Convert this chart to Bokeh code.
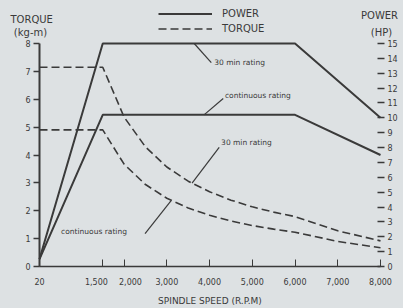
from bokeh.plotting import figure
from bokeh.models import (Range1d, LinearAxis, FixedTicker, NumeralTickFormatter,
                          Label, Legend, LegendItem)
from bokeh.embed import file_html
from bokeh.resources import INLINE

# ---- data ----
rpm_power = [20, 1500, 6000, 8000]
power_30min = [0.5, 15.0, 15.0, 10.0]     # HP
power_cont = [0.5, 10.2, 10.2, 7.5]       # HP

rpm_torque = [20, 1500, 2000, 2500, 3000, 3500, 4000, 4500, 5000, 5500, 6000, 7000, 8000]
torque_30min = [7.15, 7.15, 5.36, 4.29, 3.57, 3.06, 2.68, 2.38, 2.14, 1.95, 1.79, 1.28, 0.92]
torque_cont = [4.9, 4.9, 3.67, 2.94, 2.45, 2.1, 1.84, 1.63, 1.47, 1.34, 1.23, 0.9, 0.67]

x_ticks = [20, 1500, 2000, 3000, 4000, 5000, 6000, 7000, 8000]
torque_ticks = [0, 1, 2, 3, 4, 5, 6, 7, 8]
power_ticks = list(range(0, 16))

# annotations: text, axis, text position, leader start, leader end
note_text = ["30 min rating", "continuous rating", "30 min rating", "continuous rating"]
note_axis = ["hp", "hp", "default", "default"]
note_pos = [(4110, 13.72), (4360, 11.5), (4270, 4.45), (525, 1.26)]
note_from = [(3640, 15.0), (3870, 10.2), (3590, 2.99), (2490, 1.18)]
note_to = [(4040, 13.72), (4320, 11.3), (4225, 4.27), (3100, 2.36)]

FONT = "DejaVu Sans"
INK = "#3a3a3a"
BG = "#dde1e3"
NB = "\u00a0" * 5

# whole canvas is the frame; axes sit at fixed data locations
X0, X1 = -892.7, 8538.2
Y0, Y1 = -1.5067, 9.5426
p = figure(frame_width=403, frame_height=308,
           x_range=Range1d(X0, X1), y_range=Range1d(Y0, Y1),
           x_axis_type=None, y_axis_type=None,
           output_backend="svg", toolbar_location=None,
           min_border_left=0, min_border_top=0, min_border_right=0, min_border_bottom=0)
p.extra_y_ranges = {"hp": Range1d(Y0 * 15 / 8, Y1 * 15 / 8)}
p.background_fill_color = BG
p.border_fill_color = BG
p.outline_line_color = None

# axes
xa = LinearAxis(ticker=FixedTicker(ticks=x_ticks), formatter=NumeralTickFormatter(format="0,0"),
                axis_label="SPINDLE SPEED (R.P.M)", bounds=(20, 8000), fixed_location=0)
xa.major_label_overrides = {1500: "1,500" + NB, 2000: NB + "2,000"}
xa.major_tick_in = 7
xa.major_tick_out = 0
xa.minor_tick_line_color = None
xa.major_label_standoff = 11
xa.axis_label_standoff = 6
xa.axis_line_width = 1.5
xa.axis_line_color = INK
xa.major_tick_line_color = INK
xa.major_label_text_font = FONT
xa.major_label_text_font_size = "8px"
xa.major_label_text_color = INK
xa.axis_label_text_font = FONT
xa.axis_label_text_font_size = "9px"
xa.axis_label_text_font_style = "normal"
xa.axis_label_text_color = INK
p.add_layout(xa, "below")

ya = LinearAxis(ticker=FixedTicker(ticks=torque_ticks), bounds=(0, 8), fixed_location=20)
ya.major_tick_in = 0
ya.major_tick_out = 6
ya.minor_tick_line_color = None
ya.major_label_standoff = 3
ya.axis_line_width = 2
ya.axis_line_color = INK
ya.major_tick_line_color = INK
ya.major_tick_line_width = 1.5
ya.major_label_text_font = FONT
ya.major_label_text_font_size = "8px"
ya.major_label_text_color = INK
p.add_layout(ya, "left")

ra = LinearAxis(y_range_name="hp", ticker=FixedTicker(ticks=power_ticks), bounds=(0, 15),
                fixed_location=8000)
ra.major_tick_in = 3
ra.major_tick_out = 4
ra.minor_tick_line_color = None
ra.major_label_standoff = 3
ra.axis_line_color = None
ra.major_tick_line_color = INK
ra.major_tick_line_width = 1.5
ra.major_label_text_font = FONT
ra.major_label_text_font_size = "8px"
ra.major_label_text_color = INK
p.add_layout(ra, "right")

# curves
r_p30 = p.line(rpm_power, power_30min, y_range_name="hp", line_width=2, line_color=INK)
r_pc = p.line(rpm_power, power_cont, y_range_name="hp", line_width=2, line_color=INK)
r_t30 = p.line(rpm_torque, torque_30min, line_width=1.6, line_color=INK, line_dash="8 4")
r_tc = p.line(rpm_torque, torque_cont, line_width=1.6, line_color=INK, line_dash="8 4")

# annotations
for t, ax, pos, a, b in zip(note_text, note_axis, note_pos, note_from, note_to):
    p.segment(x0=[a[0]], y0=[a[1]], x1=[b[0]], y1=[b[1]], y_range_name=ax,
              line_color=INK, line_width=1.2)
    p.add_layout(Label(x=pos[0], y=pos[1], y_range_name=ax, text=t, text_font=FONT,
                       text_font_size="7.5px", text_color=INK, text_align="left",
                       text_baseline="middle"))

# axis titles
for txt, x, y, off, align in [("TORQUE", 20, 8.86, -29, "left"), ("(kg-m)", 20, 8.39, -9, "center"),
                              ("POWER", 8000, 9.0, -1, "center"), ("(HP)", 8000, 8.39, 1, "center")]:
    p.add_layout(Label(x=x, y=y, x_offset=off, text=txt, text_font=FONT, text_font_size="10px",
                       text_color=INK, text_align=align, text_baseline="middle"))

legend = Legend(items=[LegendItem(label="POWER", renderers=[r_p30]),
                       LegendItem(label="TORQUE", renderers=[r_t30])],
                location=(158, 273))
legend.glyph_width = 54
legend.glyph_height = 13
legend.label_height = 13
legend.label_standoff = 10
legend.spacing = 2
legend.padding = 0
legend.margin = 0
legend.border_line_alpha = 0
legend.background_fill_alpha = 0
legend.label_text_font = FONT
legend.label_text_font_size = "10px"
legend.label_text_color = INK
p.add_layout(legend, "center")

html = file_html(p, INLINE, title="Spindle power and torque")
html = html.replace("<head>", "<head><style>body{background:%s;}</style>" % BG, 1)
open("out.html", "w").write(html)
